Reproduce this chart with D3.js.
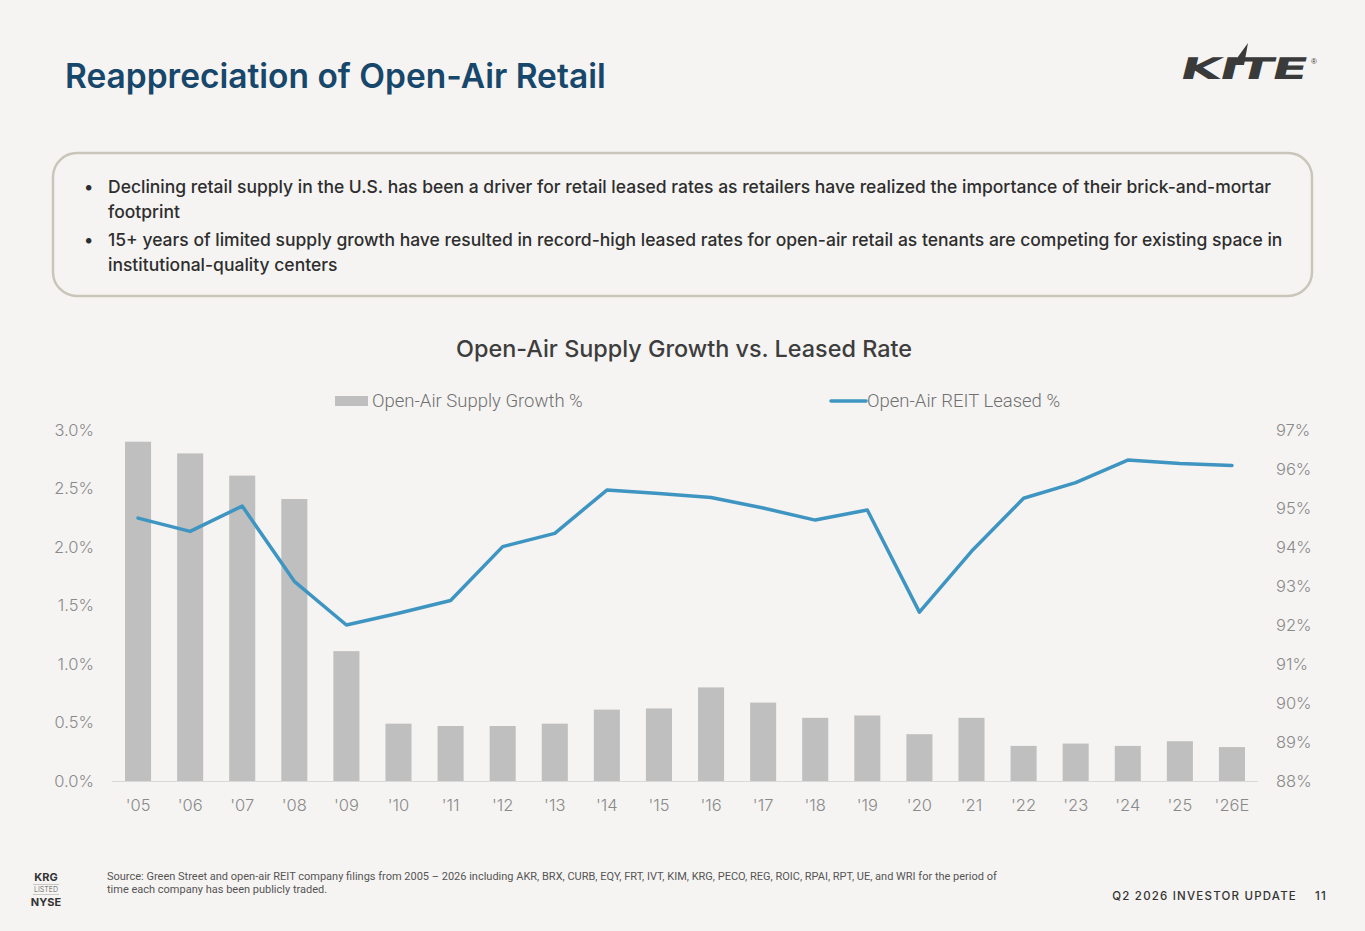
<!DOCTYPE html>
<html lang="en">
<head>
<meta charset="UTF-8">
<title>Open-Air Supply Growth vs. Leased Rate</title>
<style>
  html, body { margin: 0; padding: 0; background: #f5f4f2; }
  svg { display: block; }
  .title { font-family: Inter, sans-serif; font-size: 33.5px; font-weight: 600; fill: #17476a; }
  .bullet { font-family: Inter, sans-serif; font-size: 17.5px; font-weight: 500; fill: #2e2e2e; }
  .chart-title { font-family: Inter, sans-serif; font-size: 23.4px; font-weight: 500; fill: #3d3d3d; }
  .legend { font-family: Roboto, sans-serif; font-size: 18.5px; font-weight: 300; fill: #707070; }
  .axis text { font-family: Inter, sans-serif; font-size: 16.5px; font-weight: 300; fill: #8a8a8a; }
  .source { font-family: Roboto, sans-serif; font-size: 11px; fill: #555; }
  .footer { font-family: Inter, sans-serif; font-size: 11.5px; font-weight: 500; fill: #333; letter-spacing: 1.2px; }
</style>
</head>
<body>
<div id="chart"></div>
<script src="https://d3js.org/d3.v7.min.js"></script>
<script>
  const years = ["'05", "'06", "'07", "'08", "'09", "'10", "'11", "'12", "'13", "'14", "'15",
                 "'16", "'17", "'18", "'19", "'20", "'21", "'22", "'23", "'24", "'25", "'26E"];
  const supplyGrowth = [2.90, 2.80, 2.61, 2.41, 1.11, 0.49, 0.47, 0.47, 0.49, 0.61, 0.62,
                        0.80, 0.67, 0.54, 0.56, 0.40, 0.54, 0.30, 0.32, 0.30, 0.34, 0.29];
  const leasedRate = [94.74, 94.40, 95.05, 93.12, 92.00, 92.30, 92.63, 94.01, 94.35, 95.46, 95.37,
                      95.27, 95.00, 94.69, 94.95, 92.33, 93.89, 95.25, 95.65, 96.23, 96.14, 96.09];
  const leftTicks = [0, 0.5, 1.0, 1.5, 2.0, 2.5, 3.0];
  const rightTicks = [88, 89, 90, 91, 92, 93, 94, 95, 96, 97];

  const bullets = [
    ["Declining retail supply in the U.S. has been a driver for retail leased rates as retailers have realized the importance of their brick-and-mortar",
     "footprint"],
    ["15+ years of limited supply growth have resulted in record-high leased rates for open-air retail as tenants are competing for existing space in",
     "institutional-quality centers"]
  ];

  const W = 1365, H = 931;
  const svg = d3.select("#chart").append("svg")
      .attr("width", W).attr("height", H);

  svg.append("rect").attr("width", W).attr("height", H).attr("fill", "#f5f4f2");

  // header
  svg.append("text").attr("class", "title")
      .attr("x", 65).attr("y", 88)
      .text("Reappreciation of Open-Air Retail");

  // logo
  const logo = svg.append("g").attr("transform", "translate(1178,79)");
  logo.append("text")
      .attr("x", 0).attr("y", 0)
      .attr("transform", "skewX(-14)")
      .style("font-family", "'DejaVu Sans', sans-serif")
      .style("font-size", "30px").style("font-weight", 900)
      .style("letter-spacing", "-1px")
      .attr("fill", "#3a3a3a")
      .attr("textLength", 126)
      .attr("lengthAdjust", "spacingAndGlyphs")
      .text("KITE");
  logo.append("path")
      .attr("d", "M54,-14 L70,-36 L66,-14 Z")
      .attr("fill", "#3a3a3a");
  logo.append("text").attr("x", 133).attr("y", -15)
      .style("font-family", "sans-serif").style("font-size", "8px")
      .attr("fill", "#3a3a3a").text("®");

  // bullet box
  svg.append("rect")
      .attr("x", 53).attr("y", 153).attr("width", 1259).attr("height", 143)
      .attr("rx", 24).attr("ry", 24)
      .attr("fill", "none").attr("stroke", "#c9c5ba").attr("stroke-width", 2.5);

  const bulletY = [193, 246];
  bullets.forEach((lines, i) => {
    svg.append("text").attr("class", "bullet")
        .attr("x", 84).attr("y", bulletY[i]).text("•");
    lines.forEach((ln, j) => {
      svg.append("text").attr("class", "bullet")
          .attr("x", 108).attr("y", bulletY[i] + j * 25).text(ln);
    });
  });

  // chart
  const margin = { left: 112, right: 1258, top: 430, bottom: 781 };

  svg.append("text").attr("class", "chart-title")
      .attr("x", 684).attr("y", 357).attr("text-anchor", "middle")
      .text("Open-Air Supply Growth vs. Leased Rate");

  const x = d3.scaleBand().domain(years)
      .range([margin.left, margin.right]).paddingInner(0.5).paddingOuter(0.25);
  const yL = d3.scaleLinear().domain([0, 3]).range([margin.bottom, margin.top]);
  const yR = d3.scaleLinear().domain([88, 97]).range([margin.bottom, margin.top]);

  // bars
  svg.append("g").selectAll("rect")
      .data(years)
      .join("rect")
      .attr("x", d => x(d))
      .attr("width", x.bandwidth())
      .attr("y", (d, i) => yL(supplyGrowth[i]))
      .attr("height", (d, i) => yL(0) - yL(supplyGrowth[i]))
      .attr("fill", "#bfbfbf");

  // baseline
  svg.append("line")
      .attr("x1", margin.left).attr("x2", margin.right)
      .attr("y1", yL(0) + 0.5).attr("y2", yL(0) + 0.5)
      .attr("stroke", "#d9d9d9").attr("stroke-width", 1);

  // line
  const line = d3.line()
      .x((d, i) => x(years[i]) + x.bandwidth() / 2)
      .y(d => yR(d));
  svg.append("path")
      .datum(leasedRate)
      .attr("d", line)
      .attr("fill", "none")
      .attr("stroke", "#3e95c1")
      .attr("stroke-width", 3.5)
      .attr("stroke-linejoin", "round")
      .attr("stroke-linecap", "round");

  // axes
  const axL = svg.append("g").attr("class", "axis")
      .attr("transform", `translate(${margin.left - 15},0)`)
      .call(d3.axisLeft(yL).tickValues(leftTicks).tickSize(0)
        .tickFormat(d => d.toFixed(1) + "%"));
  axL.select(".domain").remove();

  const axR = svg.append("g").attr("class", "axis")
      .attr("transform", `translate(${margin.right + 15},0)`)
      .call(d3.axisRight(yR).tickValues(rightTicks).tickSize(0).tickFormat(d => d + "%"));
  axR.select(".domain").remove();

  const axB = svg.append("g").attr("class", "axis")
      .attr("transform", `translate(0,${margin.bottom + 15})`)
      .call(d3.axisBottom(x).tickSize(0));
  axB.select(".domain").remove();

  // legend
  const lg = svg.append("g");
  lg.append("rect").attr("x", 335).attr("y", 396).attr("width", 33).attr("height", 10)
      .attr("fill", "#bfbfbf");
  lg.append("text").attr("class", "legend").attr("x", 372).attr("y", 407)
      .text("Open-Air Supply Growth %");
  lg.append("line").attr("x1", 831).attr("x2", 866).attr("y1", 401).attr("y2", 401)
      .attr("stroke", "#3e95c1").attr("stroke-width", 3.5).attr("stroke-linecap", "round");
  lg.append("text").attr("class", "legend").attr("x", 867).attr("y", 407)
      .text("Open-Air REIT Leased %");

  // footer
  const badge = svg.append("g").attr("transform", "translate(46,0)");
  badge.append("text").attr("x", 0).attr("y", 881).attr("text-anchor", "middle")
      .style("font-family", "Inter, sans-serif").style("font-size", "11px").style("font-weight", 700)
      .attr("fill", "#333").text("KRG");
  badge.append("line").attr("x1", -13).attr("x2", 13).attr("y1", 884.5).attr("y2", 884.5)
      .attr("stroke", "#aaa").attr("stroke-width", 0.6);
  badge.append("text").attr("x", 0).attr("y", 892).attr("text-anchor", "middle")
      .style("font-family", "Inter, sans-serif").style("font-size", "7px").style("font-weight", 300)
      .attr("fill", "#555").text("LISTED");
  badge.append("line").attr("x1", -13).attr("x2", 13).attr("y1", 894.5).attr("y2", 894.5)
      .attr("stroke", "#aaa").attr("stroke-width", 0.6);
  badge.append("text").attr("x", 0).attr("y", 906).attr("text-anchor", "middle")
      .style("font-family", "Inter, sans-serif").style("font-size", "11px").style("font-weight", 700)
      .attr("fill", "#333").text("NYSE");

  svg.append("text").attr("class", "source").attr("x", 107).attr("y", 880)
      .text("Source: Green Street and open-air REIT company filings from 2005 \u2013 2026 including AKR, BRX, CURB, EQY, FRT, IVT, KIM, KRG, PECO, REG, ROIC, RPAI, RPT, UE, and WRI for the period of");
  svg.append("text").attr("class", "source").attr("x", 107).attr("y", 893)
      .text("time each company has been publicly traded.");

  svg.append("text").attr("class", "footer").attr("x", 1297).attr("y", 900)
      .attr("text-anchor", "end").text("Q2 2026 INVESTOR UPDATE");
  svg.append("text").attr("class", "footer").attr("x", 1327).attr("y", 900)
      .attr("text-anchor", "end").text("11");
</script>
</body>
</html>
